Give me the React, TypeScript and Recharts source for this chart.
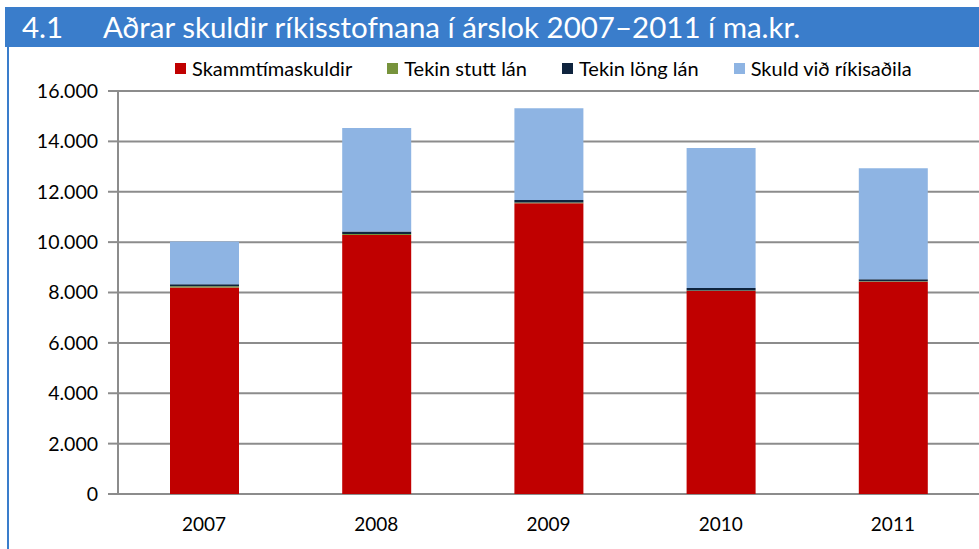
import { BarChart, Bar, XAxis, YAxis, CartesianGrid } from 'recharts';

// ár og gildi (ma.kr.) lesin af myndinni
const years = ['2007', '2008', '2009', '2010', '2011'];
const skammtima = [8200, 10280, 11540, 8060, 8430];
const stuttLan = [50, 40, 30, 20, 20];
const longLan = [80, 100, 100, 100, 80];
const rikisadilar = [1690, 4110, 3650, 5560, 4400];
const yTicks = [0, 2000, 4000, 6000, 8000, 10000, 12000, 14000, 16000];
const boundaries = [0, 1, 2, 3, 4, 5];

const series = [
  { key: 'skammtima', name: 'Skammtímaskuldir', color: '#C00000' },
  { key: 'stuttLan', name: 'Tekin stutt lán', color: '#77933C' },
  { key: 'longLan', name: 'Tekin löng lán', color: '#0F243E' },
  { key: 'rikisadilar', name: 'Skuld við ríkisaðila', color: '#8EB4E3' },
];

const data = years.map((y, i) => ({
  year: y,
  skammtima: skammtima[i],
  stuttLan: stuttLan[i],
  longLan: longLan[i],
  rikisadilar: rikisadilar[i],
}));

const fmt = (v: number) => (v === 0 ? '0' : v.toString().replace(/\B(?=(\d{3})+(?!\d))/g, '.'));

const font = 'Lato, "Open Sans", sans-serif';

function LegendRow() {
  return (
    <div style={{ display: 'flex', gap: 35, fontFamily: font, fontSize: 20, color: '#000', lineHeight: '24px' }}>
      {series.map((s) => (
        <div key={s.key} style={{ display: 'flex', alignItems: 'center', gap: 6 }}>
          <span style={{ width: 11, height: 11, background: s.color, display: 'inline-block' }} />
          <span>{s.name}</span>
        </div>
      ))}
    </div>
  );
}

export default function App() {
  return (
    <div style={{ position: 'absolute', left: 0, top: 0, width: 979, height: 549, background: '#fff', overflow: 'hidden' }}>
      <div
        style={{
          position: 'absolute', left: 5, top: 7, width: 974, height: 40, background: '#3A7DCB',
          color: '#fff', fontFamily: font, fontSize: 29.5, lineHeight: '40px', whiteSpace: 'nowrap',
        }}
      >
        <span style={{ position: 'absolute', left: 17 }}>4.1</span>
        <span style={{ position: 'absolute', left: 98 }}>Aðrar skuldir ríkisstofnana í árslok 2007–2011 í ma.kr.</span>
      </div>
      <div style={{ position: 'absolute', left: 7, top: 47, width: 2, height: 502, background: '#3A7DCB' }} />
      <div style={{ position: 'absolute', left: 0, top: 0 }}>
        <BarChart width={979} height={549} data={data} margin={{ top: 91, right: 0, left: 0, bottom: 0 }} barSize={69}>
          <CartesianGrid vertical={false} stroke="#8C8C8C" strokeWidth={2} />
          <XAxis
            xAxisId="grid"
            type="number"
            domain={[0, 5]}
            ticks={boundaries}
            allowDataOverflow
            height={0}
            tick={false}
            tickSize={8}
            tickLine={{ stroke: '#8C8C8C', strokeWidth: 2 }}
            axisLine={{ stroke: '#8C8C8C', strokeWidth: 2 }}
          />
          <XAxis
            xAxisId="cat"
            dataKey="year"
            height={55}
            tickLine={false}
            axisLine={false}
            tickMargin={18}
            tick={{ fill: '#000', fontSize: 19, fontFamily: font }}
          />
          <YAxis
            width={118}
            domain={[0, 16000]}
            ticks={yTicks}
            tickFormatter={fmt}
            tickSize={10}
            tickMargin={10}
            tickLine={{ stroke: '#8C8C8C', strokeWidth: 2 }}
            axisLine={{ stroke: '#8C8C8C', strokeWidth: 2 }}
            tick={{ fill: '#000', fontSize: 19.5, fontFamily: font }}
          />
          {series.map((s) => (
            <Bar
              key={s.key}
              xAxisId="cat"
              dataKey={s.key}
              name={s.name}
              stackId="a"
              fill={s.color}
              isAnimationActive={false}
            />
          ))}
        </BarChart>
      </div>
      <div style={{ position: 'absolute', left: 175, top: 56 }}>
        <LegendRow />
      </div>
    </div>
  );
}
